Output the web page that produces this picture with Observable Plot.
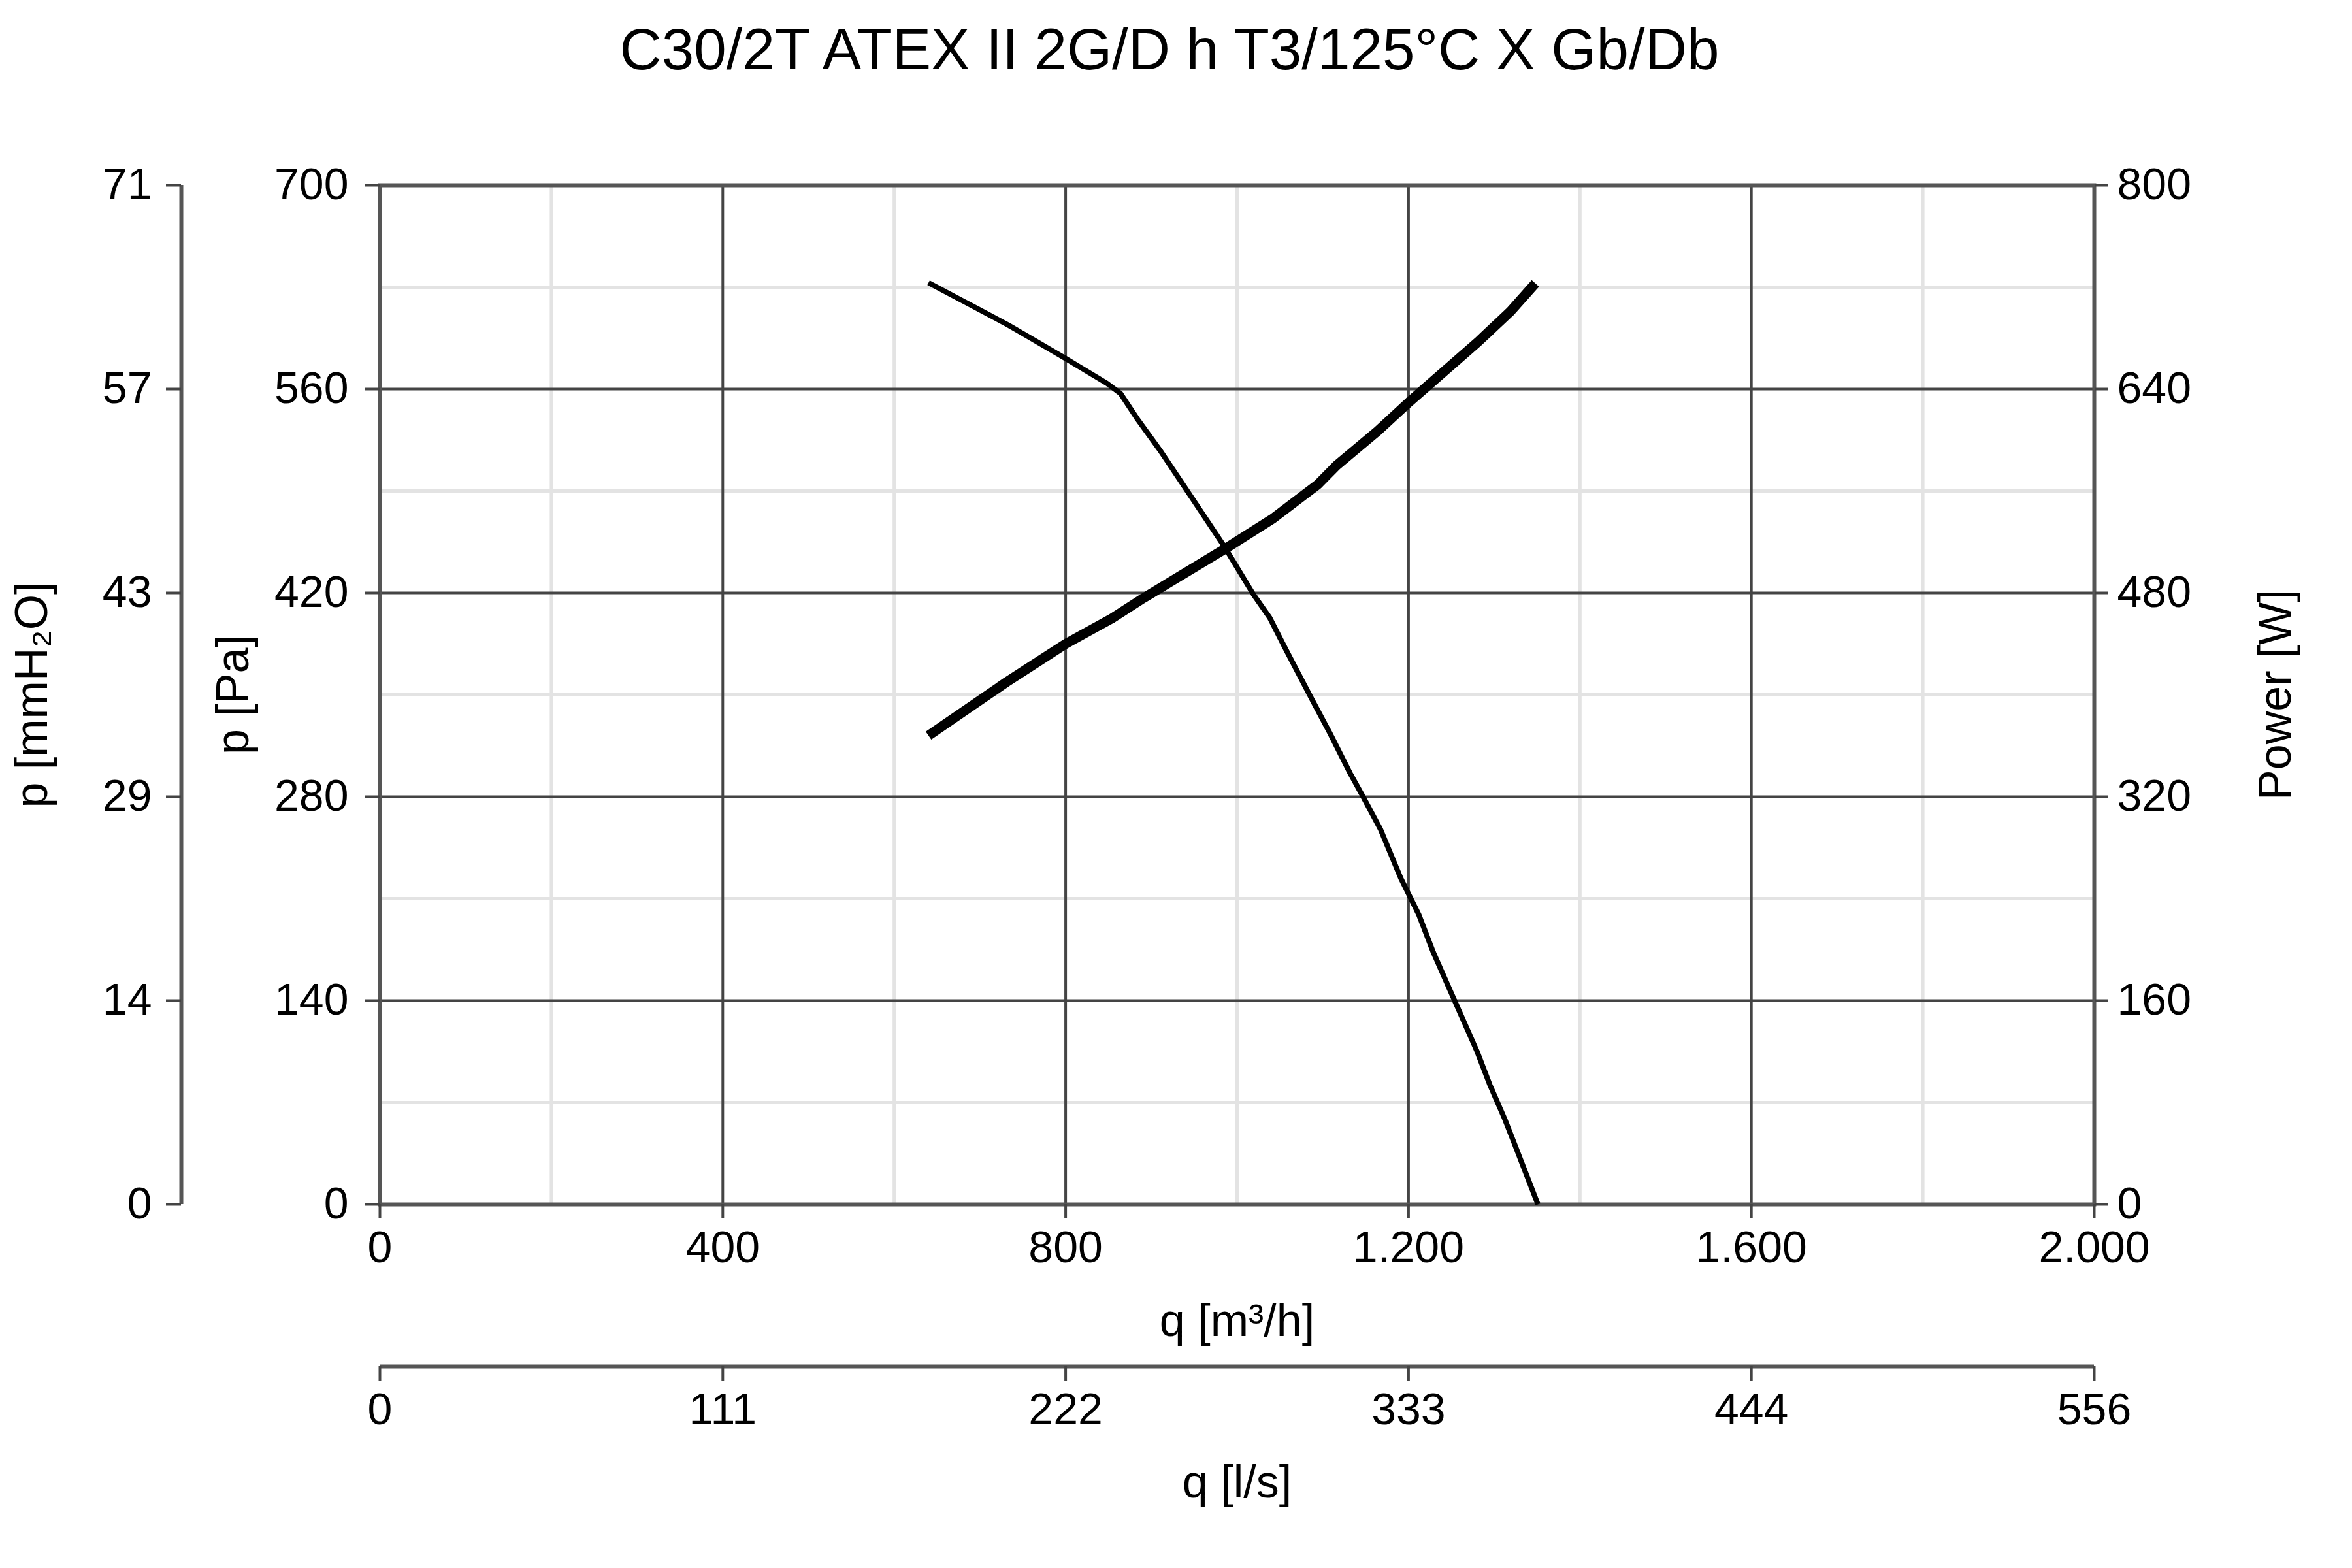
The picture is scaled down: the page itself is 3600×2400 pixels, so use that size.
<!DOCTYPE html>
<html><head><meta charset="utf-8">
<script src="https://cdn.jsdelivr.net/npm/d3@7"></script>
<script src="https://cdn.jsdelivr.net/npm/@observablehq/plot@0.6"></script>
<style>
body{margin:0;background:#fff;}
#title{width:3600px;height:150px;line-height:150px;text-align:center;font-family:"Liberation Sans",Arial,sans-serif;font-size:89px;color:#000;box-sizing:border-box;padding-right:20px;}
</style></head><body>
<div id="title"></div>
<div id="chart"></div>
<script>
const chartTitle = "C30/2T ATEX II 2G/D h T3/125°C X Gb/Db";

// Pressure curve: flow q [m³/h], static pressure p [Pa]
const pressureQ = [640, 698, 733, 800, 848, 864, 883, 910, 934, 985, 1019, 1038, 1057, 1089, 1108, 1132, 1147, 1167, 1191, 1212, 1229, 1256, 1280, 1295, 1312, 1324, 1351];
const pressureP = [633, 615, 604, 581, 564, 557, 540, 518, 497, 452, 419, 403, 381, 345, 324, 296, 280, 258, 224, 199, 173, 137, 105, 82, 59, 41, 0];

// Power curve: flow q [m³/h], power [W]
const powerQ = [640, 731, 800, 854, 891, 918, 987, 1041, 1094, 1116, 1164, 1201, 1281, 1319, 1348];
const powerW = [368, 410, 440, 460, 476, 487, 515, 538, 565, 580, 607, 630, 677, 701, 723];

// Axis ticks & labels
const qTicks = [0, 400, 800, 1200, 1600, 2000];
const qLabels = ["0", "400", "800", "1.200", "1.600", "2.000"];
const lsLabels = ["0", "111", "222", "333", "444", "556"];
const qMinor = [200, 600, 1000, 1400, 1800];
const paTicks = [0, 140, 280, 420, 560, 700];
const paLabels = ["0", "140", "280", "420", "560", "700"];
const mmLabels = ["0", "14", "29", "43", "57", "71"];
const powerLabels = ["0", "160", "320", "480", "640", "800"];
const paMinor = [70, 210, 350, 490, 630];
const powerMax = 800, paMax = 700;

document.getElementById("title").textContent = chartTitle;

const pressure = pressureQ.map((q, i) => ({q, p: pressureP[i]}));
const power = powerQ.map((q, i) => ({q, w: powerW[i]}));
const mapOf = (ticks, labels) => new Map(ticks.map((t, i) => [t, labels[i]]));
const qMap = mapOf(qTicks, qLabels), lsMap = mapOf(qTicks, lsLabels);
const paMap = mapOf(paTicks, paLabels), mmMap = mapOf(paTicks, mmLabels), pwMap = mapOf(paTicks, powerLabels);

const FS = 68, LFS = 70;
const axisStyle = {stroke: "#444", strokeWidth: 4, fontSize: FS, fill: "#000", label: null};

const chart = Plot.plot({
  width: 3600, height: 2250,
  marginLeft: 581, marginRight: 395, marginTop: 133, marginBottom: 557,
  style: {fontFamily: "Liberation Sans, Arial, sans-serif", fontSize: FS + "px", color: "#000", background: "#fff"},
  x: {domain: [0, 2000], label: null},
  y: {domain: [0, paMax], label: null},
  marks: [
    Plot.gridX(qMinor, {stroke: "#e3e3e3", strokeOpacity: 1, strokeWidth: 5}),
    Plot.gridY(paMinor, {stroke: "#e3e3e3", strokeOpacity: 1, strokeWidth: 5}),
    Plot.gridX(qTicks, {stroke: "#444", strokeOpacity: 1, strokeWidth: 4}),
    Plot.gridY(paTicks, {stroke: "#444", strokeOpacity: 1, strokeWidth: 4}),
    Plot.frame({stroke: "#555", strokeWidth: 6}),
    // primary axes
    Plot.axisX(qTicks, {...axisStyle, anchor: "bottom", tickSize: 21, tickPadding: 19, tickFormat: d => qMap.get(d)}),
    Plot.axisY(paTicks, {...axisStyle, anchor: "left", tickSize: 23, tickPadding: 25, tickFormat: d => paMap.get(d)}),
    Plot.axisY(paTicks, {...axisStyle, anchor: "right", tickSize: 21, tickPadding: 14, tickFormat: d => pwMap.get(d)}),
    // secondary left axis (mmH2O)
    Plot.ruleX([0], {dx: -304, stroke: "#555", strokeWidth: 6}),
    Plot.axisY(paTicks, {...axisStyle, anchor: "left", dx: -304, tickSize: 23, tickPadding: 22, tickFormat: d => mmMap.get(d)}),
    // secondary bottom axis (l/s)
    Plot.ruleY([0], {dy: 248, stroke: "#555", strokeWidth: 6}),
    Plot.axisX(qTicks, {...axisStyle, anchor: "bottom", dy: 248, tickSize: 23, tickPadding: 17, tickFormat: d => lsMap.get(d)}),
    // axis titles
    Plot.text(["p [mmH₂O]"], {frameAnchor: "left", dx: -532, rotate: -90, textAnchor: "middle", lineAnchor: "middle", fontSize: LFS, fill: "#000"}),
    Plot.text(["p [Pa]"], {frameAnchor: "left", dx: -224, rotate: -90, textAnchor: "middle", lineAnchor: "middle", fontSize: LFS, fill: "#000"}),
    Plot.text(["Power [W]"], {frameAnchor: "right", dx: 278, rotate: -90, textAnchor: "middle", lineAnchor: "middle", fontSize: LFS, fill: "#000"}),
    Plot.text(["q [m³/h]"], {frameAnchor: "bottom", dy: 179, textAnchor: "middle", lineAnchor: "middle", fontSize: LFS, fill: "#000"}),
    Plot.text(["q [l/s]"], {frameAnchor: "bottom", dy: 426, textAnchor: "middle", lineAnchor: "middle", fontSize: LFS, fill: "#000"}),
    // curves
    Plot.line(pressure, {x: "q", y: "p", stroke: "#000", strokeWidth: 8, strokeLinejoin: "round", strokeLinecap: "butt"}),
    Plot.line(power, {x: "q", y: d => d.w * paMax / powerMax, stroke: "#000", strokeWidth: 15, strokeLinejoin: "round", strokeLinecap: "butt"})
  ]
});
document.getElementById("chart").appendChild(chart);
</script>
</body></html>
